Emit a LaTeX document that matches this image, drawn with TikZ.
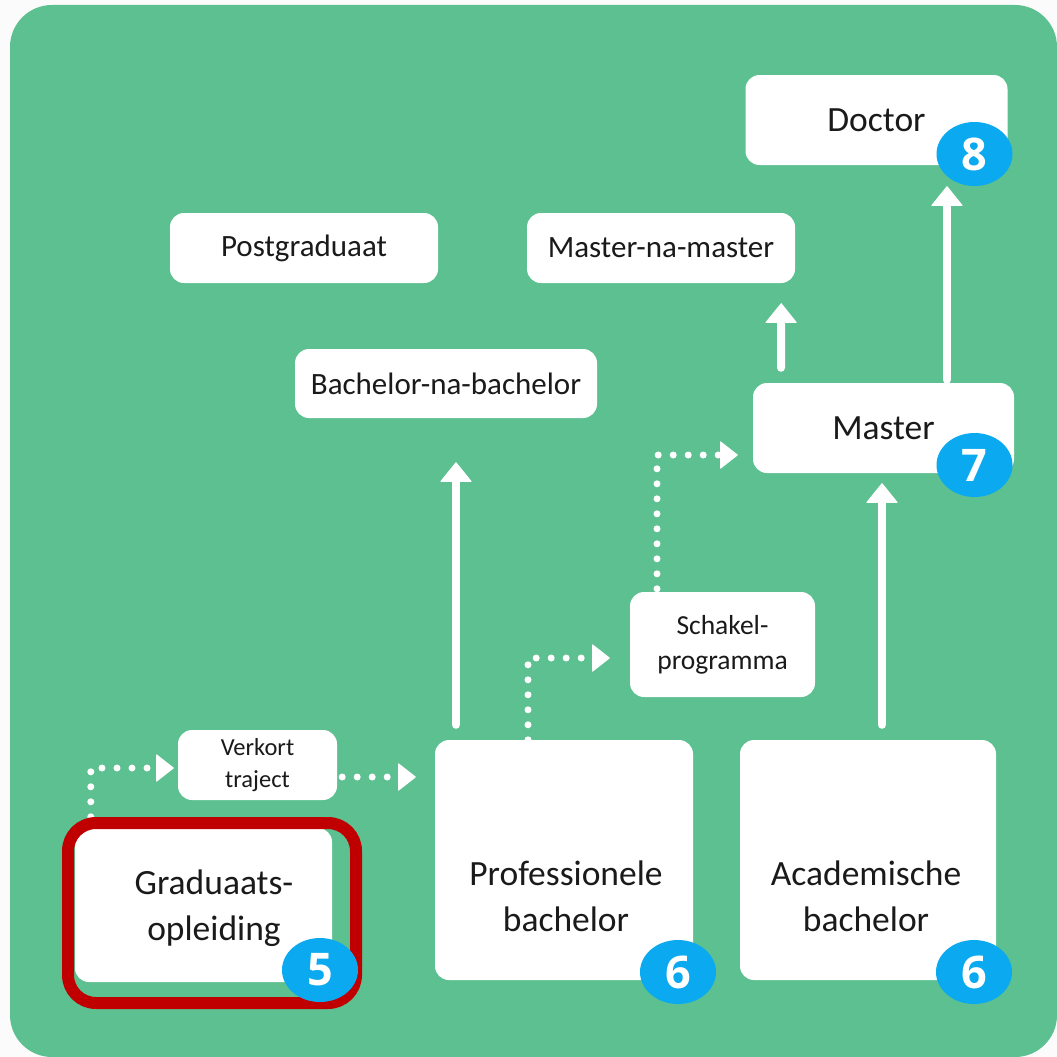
\documentclass[tikz,border=0pt]{standalone}
\usepackage{fontspec}
\setmainfont{Carlito}
\newfontfamily\badgefont{Open Sans}
\usetikzlibrary{arrows.meta,shapes.geometric}
\definecolor{bggreen}{HTML}{5DC090}
\definecolor{badgeblue}{HTML}{0BA9EF}
\definecolor{framered}{HTML}{C00000}
\definecolor{ink}{HTML}{1A1A1A}
\definecolor{page}{HTML}{FBFBFB}
\begin{document}
\begin{tikzpicture}[x=1pt,y=-1pt,
  box/.style={fill=white, rounded corners=14pt, inner sep=0pt, align=center, text=ink},
  big/.style={font=\fontsize{35.5}{46}\selectfont},
  mid/.style={font=\fontsize{31}{36}\selectfont},
  small/.style={font=\fontsize{24.5}{32}\selectfont},
  schak/.style={font=\fontsize{27.5}{35}\selectfont},
  badge/.style={ellipse, fill=badgeblue, minimum width=76pt, minimum height=64pt, inner sep=0pt, text=white, font=\badgefont\bfseries\fontsize{45}{45}\selectfont},
  solidarr/.style={draw=white, line width=8pt, line cap=round, -{Triangle[width=32pt,length=20pt,line width=1pt,round]}},
  dotarr/.style={draw=white, line width=7pt, line cap=round, dash pattern=on 0pt off 15pt, -{Triangle[width=28pt,length=18pt,line width=1pt,round]}}
]
\useasboundingbox (0,0) rectangle (1057,1057);
\fill[page] (0,0) rectangle (1057,1057);
\fill[bggreen, rounded corners=42pt] (10,5) rectangle (1057,1057);

% boxes
\node[box, big, minimum width=262pt, minimum height=90pt] (doctor) at (876.5,120) {Doctor};
\node[box, mid, minimum width=268pt, minimum height=70pt] (postgrad) at (304,248) {Postgraduaat};
\node[box, mid, minimum width=268pt, minimum height=70pt] (mnm) at (661,248) {Master-na-master};
\node[box, mid, minimum width=302pt, minimum height=69pt] (bnb) at (446,383.5) {Bachelor-na-bachelor};
\node[box, big, minimum width=261pt, minimum height=90pt] (master) at (883.5,428) {Master};
\node[box, schak, minimum width=185pt, minimum height=105pt] (schakel) at (722.5,644.5) {Schakel-\\programma};
\node[box, small, minimum width=159pt, minimum height=70pt] (verkort) at (257.5,765) {Verkort\\traject};
\node[box, big, minimum width=257pt, minimum height=154pt] (grad) at (203.5,905) {};
\node[big, align=center, text=ink] (gradtext) at (214,908) {Graduaats-\\opleiding};
\node[box, minimum width=258pt, minimum height=240pt] (prof) at (564,860) {};
\node[big, align=center, text=ink] (proftext) at (566,896) {Professionele\\bachelor};
\node[box, minimum width=256pt, minimum height=240pt] (acad) at (868,860) {};
\node[big, align=center, text=ink] (acadtext) at (866,896) {Academische\\bachelor};

% solid arrows
\draw[solidarr] ([xshift=-108pt, yshift=15pt]prof.north) -- ([xshift=10pt, yshift=-44pt]bnb.south);
\draw[solidarr] ([xshift=14pt, yshift=15pt]acad.north) -- ([xshift=-1.5pt, yshift=-10pt]master.south);
\draw[solidarr] ([xshift=-102.5pt, yshift=15pt]master.north) -- ([xshift=-14pt, yshift=-20pt]mnm.south east);
\draw[solidarr] ([xshift=63.5pt, yshift=3pt]master.north) -- ([xshift=70.5pt, yshift=-21pt]doctor.south);

% dotted arrows
\coordinate (g0) at ([xshift=16pt, yshift=11pt]grad.north west);
\coordinate (g1) at ([xshift=-4pt, yshift=-3pt]verkort.west);
\draw[dotarr] (g0) |- (g1);
\coordinate (v0) at ([xshift=5pt, yshift=-12pt]verkort.east);
\coordinate (v1) at ([xshift=-19pt]prof.west |- v0);
\draw[dotarr] (v0) -- (v1);
\coordinate (p0) at ([xshift=-36pt, yshift=0pt]prof.north);
\coordinate (p1) at ([xshift=-20pt, yshift=-13.5pt]schakel.west);
\draw[dotarr] (p0) |- (p1);
\coordinate (s0) at ([xshift=-65.5pt, yshift=-27pt]schakel.north);
\coordinate (s1) at ([xshift=-15pt, yshift=-27pt]master.west);
\draw[dotarr] (s0) |- (s1);

% red frame
\draw[framered, line width=12pt, rounded corners=28pt] (68,823) rectangle (356,1003);

% badges
\node[badge] (b8) at (974.5,154) {8};
\node[badge] (b7) at (974.5,465) {7};
\node[badge] (b5) at (320,970) {5};
\node[badge] (b6a) at (678,972) {6};
\node[badge] (b6b) at (974,972) {6};
\end{tikzpicture}
\end{document}
